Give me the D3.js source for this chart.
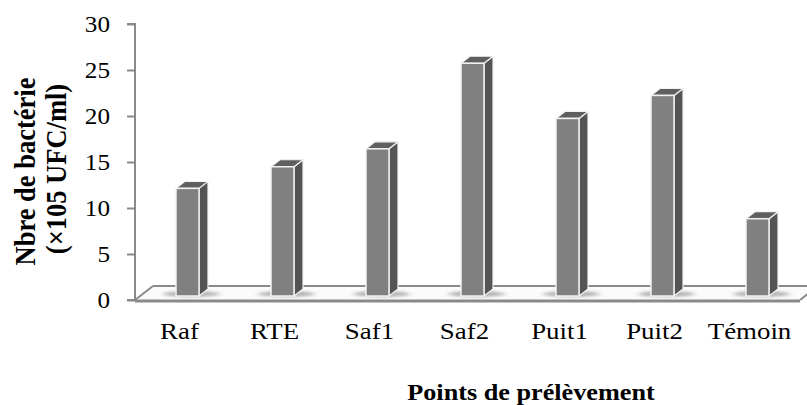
<!DOCTYPE html>
<html>
<head>
<meta charset="utf-8">
<script src="https://cdn.jsdelivr.net/npm/d3@7"></script>
<style>
  html, body { margin: 0; padding: 0; background: #fff; }
  svg { display: block; }
  text { font-family: "Liberation Serif", "Times New Roman", serif; fill: #000; }
</style>
</head>
<body>
<svg id="chart" width="807" height="405"></svg>
<script>
// ---- data ----
const categories = ["Raf", "RTE", "Saf1", "Saf2", "Puit1", "Puit2", "Témoin"];
const values = [11.7, 14.05, 16.0, 25.3, 19.3, 21.8, 8.4];
const yTicks = [0, 5, 10, 15, 20, 25, 30];
const yTitle = ["Nbre de bactérie", "(×105 UFC/ml)"];
const xTitle = "Points de prélèvement";

// ---- layout ----
const W = 807, H = 405;
const mLeft = 135, mRight = 800, mTop = 24, mBottom = 300;
const floorDX = 18, floorDY = -14;     // floor depth offset
const barDepthX = 5, barDepthY = -4;   // bar position inside floor depth
const sideDX = 9, sideDY = -7;         // bar 3D thickness
const barW = 23;

const svg = d3.select("#chart");
const defs = svg.append("defs");
defs.append("filter").attr("id", "blur").attr("x", "-50%").attr("y", "-200%").attr("width", "200%").attr("height", "500%")
  .append("feGaussianBlur").attr("stdDeviation", "3 1.5");

const x = d3.scaleBand().domain(categories).range([mLeft, mRight]).padding(0);
const y = d3.scaleLinear().domain([0, 30]).range([mBottom, mTop]);

// ---- floor ----
const floorG = svg.append("g");
floorG.append("path")
  .attr("d", `M${mLeft},${mBottom} L${mRight},${mBottom} L${mRight + floorDX},${mBottom + floorDY} L${mLeft + floorDX},${mBottom + floorDY} Z`)
  .attr("fill", "#fbfbfb").attr("stroke", "none");
floorG.append("line").attr("x1", mLeft + floorDX).attr("x2", mRight + floorDX)
  .attr("y1", mBottom + floorDY).attr("y2", mBottom + floorDY)
  .attr("stroke", "#8a8a8a").attr("stroke-width", 2);
floorG.append("line").attr("x1", mLeft).attr("x2", mLeft + floorDX)
  .attr("y1", mBottom).attr("y2", mBottom + floorDY)
  .attr("stroke", "#8a8a8a").attr("stroke-width", 2);
floorG.append("line").attr("x1", mRight).attr("x2", mRight + floorDX)
  .attr("y1", mBottom).attr("y2", mBottom + floorDY)
  .attr("stroke", "#8a8a8a").attr("stroke-width", 2);
floorG.append("line").attr("x1", mLeft).attr("x2", mRight)
  .attr("y1", mBottom + 1).attr("y2", mBottom + 1)
  .attr("stroke", "#8a8a8a").attr("stroke-width", 3);

// ---- y axis ----
const tickSx = 1.12;
const yAxis = d3.axisLeft(y).tickValues(yTicks).tickSize(8).tickPadding(17).tickFormat(d3.format("d"));
const yG = svg.append("g").attr("transform", `translate(${mLeft},0)`).call(yAxis);
yG.select(".domain").attr("stroke", "#8a8a8a").attr("stroke-width", 2)
  .attr("d", `M-8,${mTop}H0V${mBottom}H-8`);
yG.selectAll(".tick line").attr("stroke", "#8a8a8a").attr("stroke-width", 2);
yG.selectAll(".tick text")
  .attr("font-size", 22.5)
  .attr("font-family", "Liberation Serif")
  .attr("fill", "#000")
  .each(function() {
    const t = d3.select(this);
    const tx = +t.attr("x");
    t.attr("x", null).attr("transform", `translate(${tx},0) scale(${tickSx},1)`);
  });

// ---- bars ----
const barsG = svg.append("g");
categories.forEach((c, i) => {
  const v = values[i];
  const cx = x(c) + x.bandwidth() / 2 + barDepthX;
  const x0 = cx - barW / 2, x1 = cx + barW / 2;
  const yb = y(0) + barDepthY;
  const yt = y(v) + barDepthY;
  // shadow
  barsG.append("ellipse").attr("cx", cx + 4).attr("cy", yb - 2).attr("rx", 28).attr("ry", 3)
    .attr("fill", "#777").attr("opacity", 0.55).attr("filter", "url(#blur)");
  // side face
  barsG.append("path")
    .attr("d", `M${x1},${yt} L${x1 + sideDX},${yt + sideDY} L${x1 + sideDX},${yb + sideDY} L${x1},${yb} Z`)
    .attr("fill", "#545454").attr("stroke", "#f2f2f2").attr("stroke-width", 1.2).attr("stroke-linejoin", "round");
  // top face
  barsG.append("path")
    .attr("d", `M${x0},${yt} L${x0 + sideDX},${yt + sideDY} L${x1 + sideDX},${yt + sideDY} L${x1},${yt} Z`)
    .attr("fill", "#5f5f5f").attr("stroke", "#f2f2f2").attr("stroke-width", 1.2).attr("stroke-linejoin", "round");
  // front face
  barsG.append("rect").attr("x", x0).attr("y", yt).attr("width", barW).attr("height", yb - yt)
    .attr("fill", "#808080").attr("stroke", "#f2f2f2").attr("stroke-width", 1.5);
});

// ---- category labels ----
svg.append("g").selectAll("text").data(categories).join("text")
  .attr("transform", d => `translate(${x(d) + x.bandwidth() / 2 - 3},339) scale(1.12,1)`)
  .attr("text-anchor", "middle")
  .attr("font-size", 24)
  .text(d => d);

// ---- axis titles ----
svg.append("text")
  .attr("transform", `translate(531,400) scale(1.14,1)`)
  .attr("text-anchor", "middle")
  .attr("font-size", 23).attr("font-weight", "bold")
  .text(xTitle);

const yTitleX = [35, 66], yTitleY = [171.5, 169];
yTitle.forEach((t, i) => {
  svg.append("text")
    .attr("transform", `translate(${yTitleX[i]},${yTitleY[i]}) scale(1.08,1) rotate(-90)`)
    .attr("text-anchor", "middle")
    .attr("font-size", 26.5).attr("font-weight", "bold")
    .text(t);
});
</script>
</body>
</html>
